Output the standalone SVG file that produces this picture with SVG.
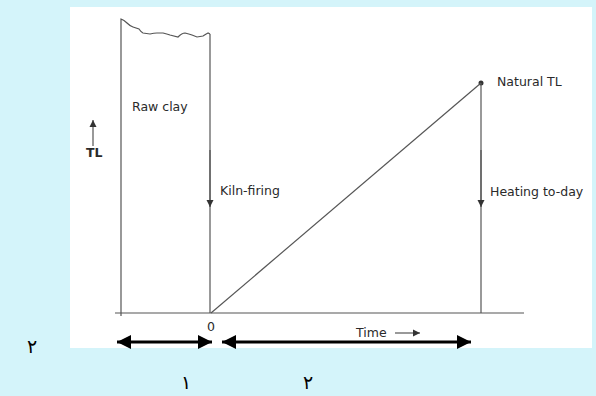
<svg xmlns="http://www.w3.org/2000/svg" width="596" height="396" viewBox="0 0 596 396">
<style>
.ln{fill:none;stroke:#555;stroke-width:1.2}
.lb{font-family:"DejaVu Sans","Liberation Sans",sans-serif;font-size:12.5px;fill:#2a2a2a}
.big{fill:none;stroke:#000;stroke-width:3}
.ar{font-family:"DejaVu Sans",sans-serif;font-size:19px;fill:#000}
</style>
<defs>
<marker id="sm" viewBox="0 0 10 10" refX="10" refY="5" markerWidth="7" markerHeight="8" markerUnits="userSpaceOnUse" orient="auto"><path d="M0,0 L10,5 L0,10 z" fill="#333"/></marker>
<marker id="bg" viewBox="0 0 10 10" refX="10" refY="5" markerWidth="16" markerHeight="14" markerUnits="userSpaceOnUse" orient="auto-start-reverse"><path d="M0,0 L10,5 L0,10 z" fill="#000"/></marker>
</defs>
<rect width="596" height="396" fill="#d4f4fa"/>
<rect x="70" y="7" width="522" height="341" fill="#fff"/>
<g id="raw-clay">
<path class="ln" d="M121,316 L121,19 Q124,20 127,23 Q130,26 133,27 L139,29 Q141,32 143,33 L150,34 Q154,33 157,33 L163,33 Q167,34 170,35 L178,37 Q182,33 185,33 Q189,34 192,35 L197,37 L203,36 Q206,34 208,33 L210,34"/>
<text class="lb" x="132" y="111">Raw clay</text>
</g>
<g id="axis">
<line class="ln" x1="115" y1="313" x2="524" y2="313"/>
<text class="lb" x="211" y="331" text-anchor="middle">0</text>
<text class="lb" x="356" y="337">Time</text>
<text class="lb" x="86" y="157" font-weight="bold">TL</text>
</g>
<g id="kiln-firing">
<text class="lb" x="220" y="195">Kiln-firing</text>
</g>
<g id="natural-tl">
<circle cx="481" cy="83" r="2.5" fill="#333"/>
<text class="lb" x="497" y="86">Natural TL</text>
</g>
<g id="heating">
<text class="lb" x="490" y="196">Heating to-day</text>
</g>
<g id="connectors">
<line class="ln" x1="210" y1="34" x2="210" y2="313"/>
<line class="ln" x1="210" y1="150" x2="210" y2="207" marker-end="url(#sm)"/>
<line class="ln" x1="211" y1="313" x2="481" y2="83"/>
<line class="ln" x1="481" y1="83" x2="481" y2="313"/>
<line class="ln" x1="481" y1="150" x2="481" y2="207" marker-end="url(#sm)"/>
<line class="ln" x1="93" y1="146" x2="93" y2="120" marker-end="url(#sm)"/>
<line class="ln" x1="395" y1="333" x2="420" y2="333" marker-end="url(#sm)"/>
<line class="big" x1="117" y1="342" x2="212" y2="342" marker-start="url(#bg)" marker-end="url(#bg)"/>
<line class="big" x1="222" y1="342" x2="471" y2="342" marker-start="url(#bg)" marker-end="url(#bg)"/>
</g>
<g id="labels">
<text class="ar" x="32" y="353" text-anchor="middle">٢</text>
<text class="ar" x="186" y="389" text-anchor="middle">١</text>
<text class="ar" x="308" y="389" text-anchor="middle">٢</text>
</g>
</svg>
